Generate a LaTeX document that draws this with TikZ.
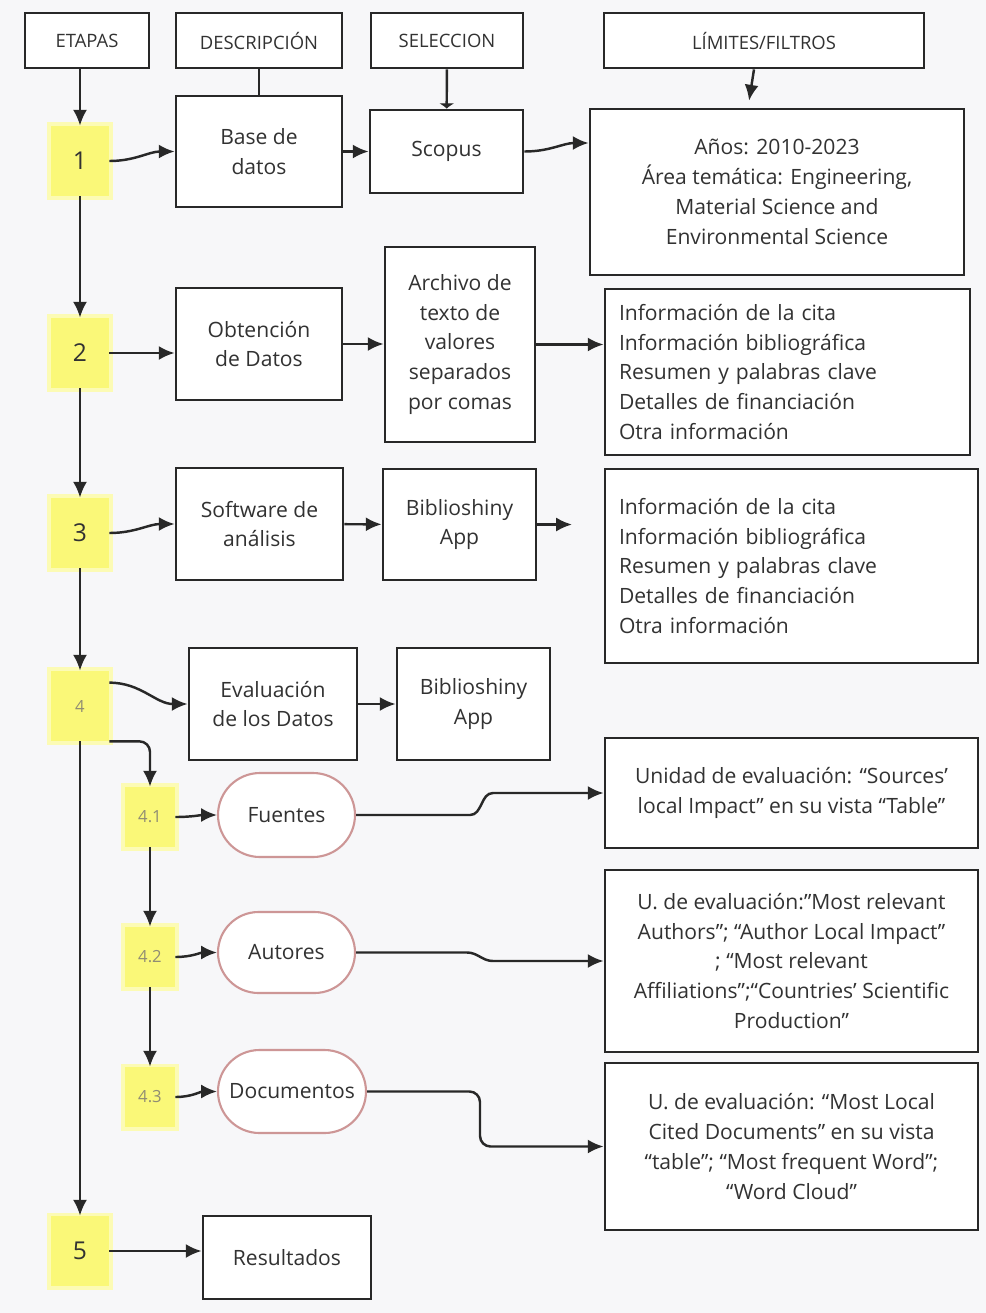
\documentclass[tikz,border=0pt]{standalone}
\usepackage{fontspec}
\setmainfont{Open Sans}
\usetikzlibrary{arrows.meta,calc,positioning,shapes.misc}
\tikzset{>={Latex[length=9pt,width=8pt]}}
\definecolor{txtgray}{RGB}{50,50,50}
\definecolor{boxline}{RGB}{40,40,40}
\definecolor{stagefill}{RGB}{250,248,120}
\definecolor{pillline}{RGB}{205,150,150}
\definecolor{bgpaper}{RGB}{247,247,249}
\newcommand\pxu{0.02cm}

\tikzset{
  box/.style={draw=boxline, line width=1.6pt, fill=white, text=txtgray, align=center,
    inner sep=0pt, font=\fontsize{12}{17}\selectfont},
  hdr/.style={box, minimum height=55*\pxu, font=\fontsize{10.5}{12}\selectfont},
  listbox/.style={box, align=left},
  pill/.style={rounded rectangle, draw=pillline, line width=1.2pt, fill=white, text=txtgray,
    inner sep=0pt, font=\fontsize{12}{17}\selectfont},
  stage/.style={fill=stagefill, preaction={draw=stagefill!55, line width=4pt},
    minimum width=58*\pxu, minimum height=70*\pxu, inner sep=0pt, text=txtgray,
    font=\fontsize{14}{16}\selectfont},
  substage/.style={stage, minimum width=50*\pxu, minimum height=60*\pxu, text=gray!80!olive,
    font=\fontsize{9.5}{11}\selectfont},
  conn/.style={line width=1.4pt, draw=boxline},
}

\begin{document}
\begin{tikzpicture}[x=\pxu, y=-\pxu]
  \fill[bgpaper] (0,0) rectangle (986,1313);
  \useasboundingbox (0,0) rectangle (986,1313);

  % column headers
  \node[hdr, minimum width=124*\pxu] (etapas) at (87,40.5) {ETAPAS};
  \node[hdr, minimum width=166*\pxu] (desc) at (259,40.5) {DESCRIPCIÓN};
  \node[hdr, minimum width=152*\pxu] (sel) at (447,40.5) {SELECCION};
  \node[hdr, minimum width=320*\pxu] (lim) at (764,40.5) {LÍMITES/FILTROS};

  % stages
  \node[stage] (e1) at (80,161) {1};
  \node[stage] (e2) at (80,353) {2};
  \node[stage] (e3) at (80,533) {3};
  \node[stage, font=\fontsize{9.5}{11}\selectfont, text=gray!80!olive] (e4) at (80,706) {4};
  \node[stage] (e5) at (80,1251) {5};
  \node[substage] (e41) at (150,817) {4.1};
  \node[substage] (e42) at (150,957) {4.2};
  \node[substage] (e43) at (150,1097) {4.3};

  % row 1
  \node[box, minimum width=166*\pxu, minimum height=111*\pxu] (base) at (259,151.5) {Base de\\datos};
  \node[box, minimum width=153*\pxu, minimum height=83*\pxu] (scopus) at (446.5,151.5) {Scopus};
  \node[box, minimum width=374*\pxu, minimum height=166*\pxu] (anos) at (777,192)
    {Años: 2010-2023\\Área temática: Engineering,\\Material Science and\\Environmental Science};

  % row 2
  \node[box, minimum width=166*\pxu, minimum height=112*\pxu] (obt) at (259,344) {Obtención\\de Datos};
  \node[box, minimum width=150*\pxu, minimum height=195*\pxu] (arch) at (460,344.5)
    {Archivo de\\texto de\\valores\\separados\\por comas};
  \node[listbox, minimum width=365*\pxu, minimum height=166*\pxu, text width=337*\pxu] (info1) at (787.5,372)
    {Información de la cita\\Información bibliográfica\\Resumen y palabras clave\\Detalles de financiación\\Otra información};

  % row 3
  \node[box, minimum width=167*\pxu, minimum height=112*\pxu] (soft) at (259.5,524) {Software de\\análisis};
  \node[box, minimum width=153*\pxu, minimum height=111*\pxu] (bib1) at (459.5,524.5) {Biblioshiny\\App};
  \coordinate (bibend) at (572,524.5);
  \node[listbox, minimum width=373*\pxu, minimum height=194*\pxu, text width=345*\pxu] (info2) at (791.5,566)
    {Información de la cita\\Información bibliográfica\\Resumen y palabras clave\\Detalles de financiación\\Otra información};

  % row 4
  \node[box, minimum width=168*\pxu, minimum height=112*\pxu] (eval) at (273,704) {Evaluación\\de los Datos};
  \node[box, minimum width=153*\pxu, minimum height=112*\pxu] (bib2) at (473.5,704) {Biblioshiny\\App};
  \node[pill, minimum width=137*\pxu, minimum height=84*\pxu] (fuentes) at (286.5,815) {Fuentes};
  \node[pill, minimum width=137*\pxu, minimum height=81*\pxu] (autores) at (286.5,952.5) {Autores};
  \node[pill, minimum width=148*\pxu, minimum height=83*\pxu] (docs) at (292,1091.5) {Documentos};
  \node[box, minimum width=373*\pxu, minimum height=110*\pxu] (unidad) at (791.5,793)
    {Unidad de evaluación: “Sources’\\local Impact” en su vista “Table”};
  \node[box, minimum width=373*\pxu, minimum height=182*\pxu] (autbox) at (791.5,961)
    {U. de evaluación:”Most relevant\\Authors”; “Author Local Impact”\\; “Most relevant\\Affiliations”;“Countries’ Scientific\\Production”};
  \node[box, minimum width=373*\pxu, minimum height=167*\pxu] (docbox) at (791.5,1146.5)
    {U. de evaluación: “Most Local\\Cited Documents” en su vista\\“table”; “Most frequent Word”;\\“Word Cloud”};

  % row 5
  \node[box, minimum width=168*\pxu, minimum height=83*\pxu] (res) at (287,1257.5) {Resultados};

  % header links
  \draw[conn, ->] (e1.north |- etapas.south) -- (e1.north);
  \draw[conn] (desc) -- (base);
  \draw[conn, -{Latex[length=3pt,width=9pt]}] (sel) -- (scopus);
  \draw[conn, ->, shorten >=4pt] ($(lim.south)+(-10,0)$) -- ($(anos.north)+(-29,0)$);

  % stage chain
  \foreach \a/\b in {e1/e2,e2/e3,e3/e4,e4/e5,e41/e42,e42/e43}
    \draw[conn, ->] (\a) -- (\b);
  \draw[conn, ->, rounded corners=6pt] (e4.south east) -| (e41.north);

  % flows
  \draw[conn, ->] (e1.east) to[out=0,in=180] (base.west);
  \draw[conn, ->] (base) -- (scopus);
  \draw[conn, ->] (scopus.east) to[out=0,in=180] ($(anos.west)+(0,-49)$);
  \draw[conn, ->] (e2.east) -- (e2.east -| obt.west);
  \draw[conn, ->] (obt.east) -- (obt.east -| arch.west);
  \draw[conn, ->] (arch.east) -- (arch.east -| info1.west);
  \draw[conn, ->] (e3.east) to[out=0,in=180] (soft.west);
  \draw[conn, ->] (soft) -- (bib1);
  \draw[conn, ->] (bib1.east) -- (bibend);
  \draw[conn, ->] ($(e4.north east)+(0,12)$) to[out=0,in=180] (eval.west);
  \draw[conn, ->] (eval) -- (bib2);
  \draw[conn, ->] (e41.east) to[out=0,in=180] (fuentes.west);
  \draw[conn, ->] (e42.east) to[out=0,in=180] (autores.west);
  \draw[conn, ->] (e43.east) to[out=0,in=180] (docs.west);
  \draw[conn, ->] (fuentes.east) -- (470,815) to[out=0,in=180] (493,793) -- (unidad.west);
  \draw[conn, ->] (autores.east) -- (467,952.5) to[out=0,in=180] (493,961) -- (autbox.west);
  \draw[conn, ->, rounded corners=6pt] (docs.east) -| (480,1146.5) -- (docbox.west);
  \draw[conn, ->] (e5.east) -- (e5.east -| res.west);
\end{tikzpicture}
\end{document}
